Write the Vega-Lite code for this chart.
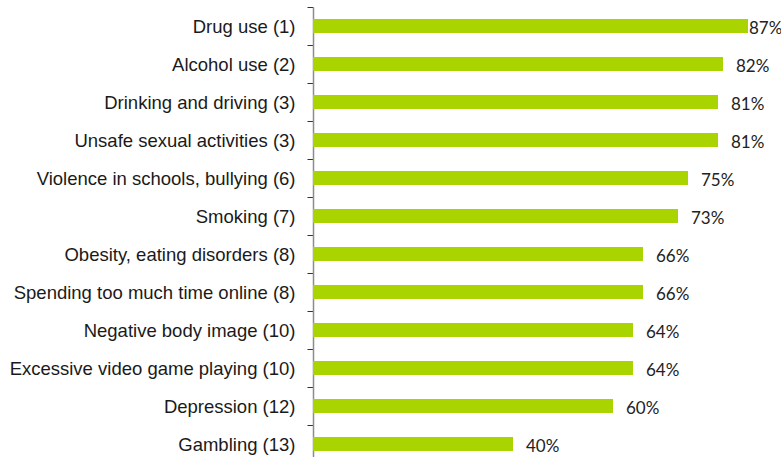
{
  "$schema": "https://vega.github.io/schema/vega-lite/v6.json",
  "autosize": {"type": "none"},
  "padding": {"left": 313, "top": 7, "right": 0, "bottom": 0},
  "width": 468,
  "height": 456,
  "background": "white",
  "config": {"view": {"stroke": null}},
  "data": {
    "values": [
      {"issue": "Drug use (1)", "value": 0.87},
      {"issue": "Alcohol use (2)", "value": 0.82},
      {"issue": "Drinking and driving (3)", "value": 0.81},
      {"issue": "Unsafe sexual activities (3)", "value": 0.81},
      {"issue": "Violence in schools, bullying (6)", "value": 0.75},
      {"issue": "Smoking (7)", "value": 0.73},
      {"issue": "Obesity, eating disorders (8)", "value": 0.66},
      {"issue": "Spending too much time online (8)", "value": 0.66},
      {"issue": "Negative body image (10)", "value": 0.64},
      {"issue": "Excessive video game playing (10)", "value": 0.64},
      {"issue": "Depression (12)", "value": 0.60},
      {"issue": "Gambling (13)", "value": 0.40}
    ]
  },
  "encoding": {
    "y": {
      "field": "issue",
      "type": "nominal",
      "sort": null,
      "scale": {"paddingInner": 0, "paddingOuter": 0},
      "axis": {
        "title": null,
        "labelFont": "Liberation Sans",
        "labelFontSize": 18.5,
        "labelColor": "#1a1a1a",
        "labelPadding": 12,
        "labelLimit": 400,
        "tickBand": "extent",
        "tickSize": 6,
        "tickColor": "#333333",
        "domainColor": "#8c8c8c",
        "domainWidth": 1.5
      }
    },
    "x": {
      "field": "value",
      "type": "quantitative",
      "scale": {"domain": [0, 0.936], "nice": false, "zero": true},
      "axis": null
    }
  },
  "layer": [
    {"mark": {"type": "bar", "size": 14, "color": "#a9d400"}},
    {
      "transform": [{"filter": "datum.value < 0.85"}],
      "mark": {"type": "text", "align": "left", "baseline": "middle", "dx": 13, "dy": 3, "font": "Lato", "fontSize": 17, "color": "#222222"},
      "encoding": {"text": {"field": "value", "type": "quantitative", "format": ".0%"}}
    },
    {
      "transform": [{"filter": "datum.value >= 0.85"}],
      "mark": {"type": "text", "align": "left", "baseline": "middle", "dx": 1, "dy": 3, "font": "Lato", "fontSize": 17, "color": "#222222"},
      "encoding": {"text": {"field": "value", "type": "quantitative", "format": ".0%"}}
    }
  ]
}
